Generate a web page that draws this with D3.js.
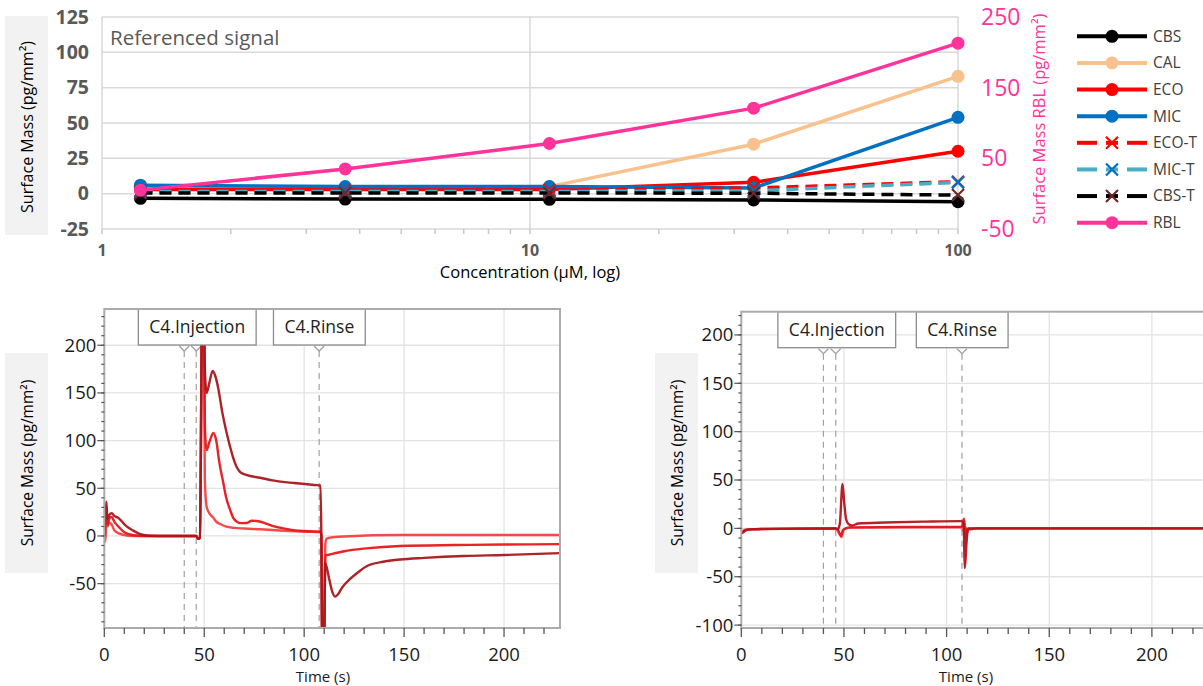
<!DOCTYPE html>
<html><head><meta charset="utf-8">
<script src="https://cdn.jsdelivr.net/npm/d3@7"></script>
<style>body{margin:0;background:#fff;} svg{display:block;font-family:"Open Sans",sans-serif;}</style>
</head><body><svg id="c" width="1203" height="686"></svg>
<script>
// ---------------- DATA: top chart ----------------
const concentrations = [1.23, 3.7, 11.1, 33.3, 100];
const seriesNames = ["CBS", "CAL", "ECO", "MIC", "ECO-T", "MIC-T", "CBS-T", "RBL"];
const cbsValues  = [-3.3, -3.8, -4.0, -4.5, -5.7];
const calValues  = [4, 4, 5, 35, 83];
const ecoValues  = [3, 3, 3, 8, 30];
const micValues  = [6, 5, 5, 4, 54];
const ecoTValues = [2, 2, 2.5, 4, 8.5];
const micTValues = [1.5, 1.5, 1.5, 2, 8];
const cbsTValues = [0.5, 0.5, 0.5, 0.3, -1];
const rblValues  = [5, 35, 71, 121, 213];   // right axis
const topYTicks = [-25, 0, 25, 50, 75, 100, 125];
const rblTicks = [-50, 50, 150, 250];
const topXTicks = [1, 10, 100];

// ---------------- DATA: sensorgrams ----------------
const timeTicks = [0, 50, 100, 150, 200];
const leftYTicks = [-50, 0, 50, 100, 150, 200];
const rightYTicks = [-100, -50, 0, 50, 100, 150, 200];
const eventLines = [40, 46, 107.5];
const eventLabels = ["C4.Injection", "C4.Rinse"];
const eventLabelTimes = [46.5, 107.6];

const leftDark = [[0,0],[0.6,20],[1,36],[1.6,18],[2.5,22],[3.7,24],[5,21],[7,19],[8.5,16],[10.4,11.5],[12.5,8],[14.5,5.6],[18,2],[23,0.3],[30,0],[46,0],[47,-3],[47.8,-2],[48.3,80],[48.8,230],[49.8,245],[50.4,170],[51.2,150],[52.5,160],[54.2,173],[55.5,168],[57,155],[59,130],[61,110],[63,93],[64.5,82],[66.3,72],[68,67],[71,64],[78,61],[85,58],[95,55.5],[105,53.5],[108.2,53],[108.6,0],[109,-110],[110,-110],[110.5,-28],[112.5,-45],[114,-58],[115.5,-63.5],[117,-61],[119,-54],[123,-45],[127,-38],[131,-32],[139.5,-27],[148,-24.7],[160,-23],[180,-21],[200,-20],[228,-18]];
const leftMid = [[0,0],[0.6,15],[1,30],[1.6,12],[2.5,18],[3.7,20],[5,15],[7,10],[10,4],[14,1],[20,0],[46,0],[47,-3],[47.8,-2],[48.3,80],[48.8,230],[49.8,240],[50.4,110],[51.2,90],[52.5,98],[54.6,108],[56,100],[57.5,78],[59.6,55],[61,40],[63,27],[64.5,19],[66.3,15],[68.5,13.5],[71.3,13.6],[73.8,16],[77,15.5],[81,13],[85,10],[89.5,8],[97,5.6],[105,4.8],[108.2,4.5],[108.6,0],[109,-110],[110,-110],[110.6,-20],[111.5,-20],[114.6,-18.5],[120,-16],[131,-13],[148,-10.5],[175,-9.5],[200,-9],[228,-8.5]];
const leftLight = [[0,0],[0.6,-6],[1,20],[1.6,10],[2.5,14],[3.7,12],[5,6],[7,3],[10,1],[14,0],[46,0],[47,-3],[47.8,-2],[48.3,80],[48.8,230],[49.8,235],[50.3,60],[51.2,30.7],[52.5,24],[54.6,19],[56,15],[58,12.5],[61,9.8],[65,8.5],[70,7.8],[78,7],[90,5.5],[100,4.5],[108.2,4],[108.6,0],[109,-110],[110,-110],[110.6,-8],[111.2,-3],[113,-1.8],[120,-0.5],[148,1],[228,1]];

const rightDark = [[0,-5],[1,-4],[2,-2],[4,-1],[10,-0.5],[46,0],[47,-1],[48,5],[49.3,46],[50.2,25],[51,10],[52,5],[54,3],[57,5],[70,6],[90,7],[107,7.5],[108,7],[108.4,0],[108.8,-41],[109.3,-30],[110,-5],[111,0],[120,0],[235,0]];
const rightMid = [[0,-5],[2,-2],[5,-1],[46,0],[47.5,-3],[48.5,-8],[49.5,-2],[51,0],[53,1],[80,1.5],[107,1.5],[108,5],[108.5,10],[109,-10],[109.5,0],[111,-1],[115,0],[235,0]];
const rightLight = [[0,-4],[2,-1],[46,0],[47.5,-5],[48.9,-9],[50,-1],[52,0.5],[107,1],[108.2,-3],[108.8,8],[109.5,-15],[110.5,0],[235,0]];

// ---------------- STYLE ----------------
const seriesColors = ["#000000", "#f9c18c", "#ff0000", "#0070c0", "#ff0000", "#4bacc6", "#000000", "#ff3399"];
const markerColors = ["#000000", "#f9c18c", "#ff0000", "#0070c0", "#ff0000", "#0070c0", "#6b2a2a", "#ff3399"];
const dashed = [false, false, false, false, true, true, true, false];
const pink = "#ff3399";

const svg = d3.select("#c");
svg.append("rect").attr("width",1203).attr("height",686).attr("fill","#fff");

// ================= TOP CHART =================
const xTop = d3.scaleLog().domain([1,100]).range([102,958]);
const yTop = d3.scaleLinear().domain([-25,125]).range([229,17]);
const yRbl = d3.scaleLinear().domain([-50,250]).range([229,17]);
const topG = svg.append("g");

// gridlines
topG.selectAll("line.hg").data(topYTicks).join("line")
  .attr("x1",102).attr("x2",958).attr("y1",d=>yTop(d)).attr("y2",d=>yTop(d))
  .attr("stroke","#d9d9d9").attr("stroke-width",1.5);
topG.selectAll("line.vg").data(topXTicks).join("line")
  .attr("x1",d=>xTop(d)).attr("x2",d=>xTop(d)).attr("y1",17).attr("y2",229)
  .attr("stroke","#d9d9d9").attr("stroke-width",1.5);
// minor log ticks
const minorTicks = xTop.ticks();
topG.selectAll("line.mt").data(minorTicks).join("line")
  .attr("x1",d=>xTop(d)).attr("x2",d=>xTop(d)).attr("y1",229).attr("y2",234)
  .attr("stroke","#c8c8c8").attr("stroke-width",1.5);

// left ticks
topG.selectAll("text.yl").data(topYTicks).join("text")
  .attr("x",89).attr("y",d=>yTop(d)).attr("dy","0.35em").attr("text-anchor","end")
  .attr("font-size",19.5).attr("font-weight","bold").attr("fill","#595959").text(d=>d);
// right ticks
topG.selectAll("text.yr").data(rblTicks).join("text")
  .attr("x",981).attr("y",d=>yRbl(d)).attr("dy","0.35em").attr("text-anchor","start")
  .attr("font-size",23).attr("fill",pink).text(d=>d);
// x ticks
topG.selectAll("text.xl").data(topXTicks).join("text")
  .attr("x",d=>xTop(d)).attr("y",250).attr("dy","0.35em").attr("text-anchor","middle")
  .attr("font-size",16).attr("font-weight","bold").attr("fill","#595959").text(d=>d);
topG.append("text").attr("x",530).attr("y",278).attr("text-anchor","middle")
  .attr("font-size",16.5).attr("fill","#000").text("Concentration (µM, log)");

// y title box
topG.append("rect").attr("x",5).attr("y",16).attr("width",43).attr("height",219).attr("fill","#f2f2f2");
topG.append("text").attr("transform","translate(33,127) rotate(-90)").attr("text-anchor","middle")
  .attr("font-size",16).attr("fill","#000").text("Surface Mass (pg/mm²)");
topG.append("text").attr("transform","translate(1045,119) rotate(-90)").attr("text-anchor","middle")
  .attr("font-size",16.5).attr("fill",pink).text("Surface Mass RBL (pg/mm²)");
topG.append("text").attr("x",110).attr("y",45).attr("font-size",20.5).attr("fill","#595959").text("Referenced signal");

const allValues = [cbsValues, calValues, ecoValues, micValues, ecoTValues, micTValues, cbsTValues, rblValues];
const series = seriesNames.map((n,i)=>({name:n, values:allValues[i], color:seriesColors[i], mcolor:markerColors[i], dashed:dashed[i], yScale: n==="RBL"? yRbl : yTop}));
const lineGen = s => d3.line().x((d,i)=>xTop(concentrations[i])).y(d=>s.yScale(d));

function drawMarker(g, x, y, s){
  if(s.dashed){
    const r=6;
    g.append("path").attr("d",`M${x-r},${y-r}L${x+r},${y+r}M${x-r},${y+r}L${x+r},${y-r}`)
      .attr("stroke",s.mcolor).attr("stroke-width",2.2).attr("fill","none");
  } else {
    g.append("circle").attr("cx",x).attr("cy",y).attr("r",6.5).attr("fill",s.mcolor);
  }
}
series.forEach(s=>{
  const g = topG.append("g");
  g.append("path").datum(s.values).attr("d",lineGen(s)).attr("fill","none")
    .attr("stroke",s.color).attr("stroke-width",3.5)
    .attr("stroke-dasharray", s.dashed ? "12,7" : null);
  s.values.forEach((v,i)=>drawMarker(g, xTop(concentrations[i]), s.yScale(v), s));
});

// legend
const legRow = d3.scaleBand().domain(seriesNames).range([23,236]);
series.forEach(s=>{
  const y = legRow(s.name) + legRow.bandwidth()/2;
  const g = topG.append("g");
  if(s.dashed){
    g.append("line").attr("x1",1077).attr("x2",1097).attr("y1",y).attr("y2",y).attr("stroke",s.color).attr("stroke-width",4);
    g.append("line").attr("x1",1127).attr("x2",1147).attr("y1",y).attr("y2",y).attr("stroke",s.color).attr("stroke-width",4);
    g.append("line").attr("x1",1106).attr("x2",1118).attr("y1",y).attr("y2",y).attr("stroke",s.color).attr("stroke-width",4);
  } else {
    g.append("line").attr("x1",1077).attr("x2",1147).attr("y1",y).attr("y2",y).attr("stroke",s.color).attr("stroke-width",4);
  }
  drawMarker(g,1112,y,s);
  g.append("text").attr("x",1153).attr("y",y).attr("dy","0.35em").attr("font-size",15.5).attr("fill","#404040").text(s.name);
});

// ================= SENSORGRAMS =================
function sensorgram(cfg){
  const g = svg.append("g");
  const x = d3.scaleLinear().domain(cfg.xDomain).range(cfg.xRange);
  const y = d3.scaleLinear().domain(cfg.yDomain).range(cfg.yRange);
  const [x0,x1] = cfg.xRange, [yb,yt] = cfg.yRange;
  const clipId = "clip"+cfg.id;
  svg.append("defs").append("clipPath").attr("id",clipId).append("rect")
    .attr("x",x0).attr("y",yt).attr("width",x1-x0).attr("height",yb-yt);

  // grid
  g.selectAll("line.hg").data(cfg.yTicks).join("line")
    .attr("x1",x0).attr("x2",x1).attr("y1",d=>y(d)).attr("y2",d=>y(d)).attr("stroke","#e3e3e3").attr("stroke-width",1.3);
  g.selectAll("line.vg").data(timeTicks.filter(d=>d>0)).join("line")
    .attr("x1",d=>x(d)).attr("x2",d=>x(d)).attr("y1",yt).attr("y2",yb).attr("stroke","#e3e3e3").attr("stroke-width",1.3);

  // event dashed lines + chevrons
  eventLines.forEach(t=>{
    g.append("line").attr("x1",x(t)).attr("x2",x(t)).attr("y1",yt+42).attr("y2",yb)
      .attr("stroke","#a0a0a0").attr("stroke-width",1.2).attr("stroke-dasharray","6,5");
    g.append("path").attr("d",`M${x(t)-5},${yt+37}L${x(t)},${yt+42}L${x(t)+5},${yt+37}`)
      .attr("fill","none").attr("stroke","#a0a0a0").attr("stroke-width",1.3);
  });

  // curves
  const line = d3.line().x(d=>x(d[0])).y(d=>y(d[1])).curve(d3.curveMonotoneX);
  const cg = g.append("g").attr("clip-path",`url(#${clipId})`);
  cfg.curves.forEach((c,i)=>{
    cg.append("path").datum(c).attr("d",line).attr("fill","none")
      .attr("stroke",cfg.colors[i]).attr("stroke-width",2.4).attr("stroke-opacity",0.95);
  });

  // event labels (boxes over curves)
  eventLabels.forEach((lab,i)=>{
    const cx = x(eventLabelTimes[i]);
    const lg = g.append("g");
    const r = lg.append("rect");
    const t = lg.append("text").attr("x",cx).attr("y",yt+18).attr("dy","0.35em").attr("text-anchor","middle")
      .attr("font-size",17.5).attr("fill","#222").text(lab);
    const w = t.node().getComputedTextLength()+22;
    r.attr("x",cx-w/2).attr("y",yt).attr("width",w).attr("height",36).attr("fill","#fff")
      .attr("stroke","#8c8c8c").attr("stroke-width",1.3);
  });

  // frame
  g.append("rect").attr("x",x0).attr("y",yt).attr("width",x1-x0).attr("height",yb-yt)
    .attr("fill","none").attr("stroke","#ababab").attr("stroke-width",2);

  // y ticks
  const yMinor = d3.range(Math.ceil(cfg.yDomain[0]/10)*10, cfg.yDomain[1], 10);
  g.selectAll("line.ym").data(yMinor).join("line")
    .attr("x1",x0-3).attr("x2",x0).attr("y1",d=>y(d)).attr("y2",d=>y(d)).attr("stroke","#555").attr("stroke-width",1.2);
  g.selectAll("line.yM").data(cfg.yTicks).join("line")
    .attr("x1",x0-7).attr("x2",x0).attr("y1",d=>y(d)).attr("y2",d=>y(d)).attr("stroke","#555").attr("stroke-width",1.2);
  g.selectAll("text.yl").data(cfg.yTicks).join("text")
    .attr("x",x0-8).attr("y",d=>y(d)).attr("dy","0.35em").attr("text-anchor","end")
    .attr("font-size",18.5).attr("fill","#1a1a1a").text(d=>d);
  // x ticks
  const xMinor = d3.range(0, cfg.xDomain[1], 10);
  g.selectAll("line.xm").data(xMinor).join("line")
    .attr("x1",d=>x(d)).attr("x2",d=>x(d)).attr("y1",yb).attr("y2",d=>yb+(d%50===0?9:6)).attr("stroke","#555").attr("stroke-width",1.3);
  g.selectAll("text.xl").data(timeTicks).join("text")
    .attr("x",d=>x(d)).attr("y",yb+27).attr("dy","0.35em").attr("text-anchor","middle")
    .attr("font-size",18.5).attr("fill","#1a1a1a").text(d=>d);
  g.append("text").attr("x",cfg.timeTitleX).attr("y",yb+54).attr("text-anchor","middle")
    .attr("font-size",15).attr("fill","#1a1a1a").text("Time (s)");
  // y title box
  g.append("rect").attr("x",cfg.titleBoxX).attr("y",353).attr("width",43).attr("height",220).attr("fill","#f2f2f2");
  g.append("text").attr("transform",`translate(${cfg.titleBoxX+28},463) rotate(-90)`).attr("text-anchor","middle")
    .attr("font-size",15.5).attr("fill","#000").text("Surface Mass (pg/mm²)");
}

sensorgram({id:"L", xDomain:[0,228], xRange:[104.3,560], yDomain:[-96.5,238], yRange:[628,309],
  yTicks:leftYTicks, curves:[leftLight,leftMid,leftDark], colors:["#f54040","#e8161c","#a8171c"],
  timeTitleX:323, titleBoxX:5});
sensorgram({id:"R", xDomain:[0,236], xRange:[741.3,741.3+236*2.053], yDomain:[-103,224], yRange:[628,311.7],
  yTicks:rightYTicks, curves:[rightLight,rightMid,rightDark], colors:["#f76a6a","#e0161c","#b3141a"],
  timeTitleX:966, titleBoxX:655});
</script></body></html>
